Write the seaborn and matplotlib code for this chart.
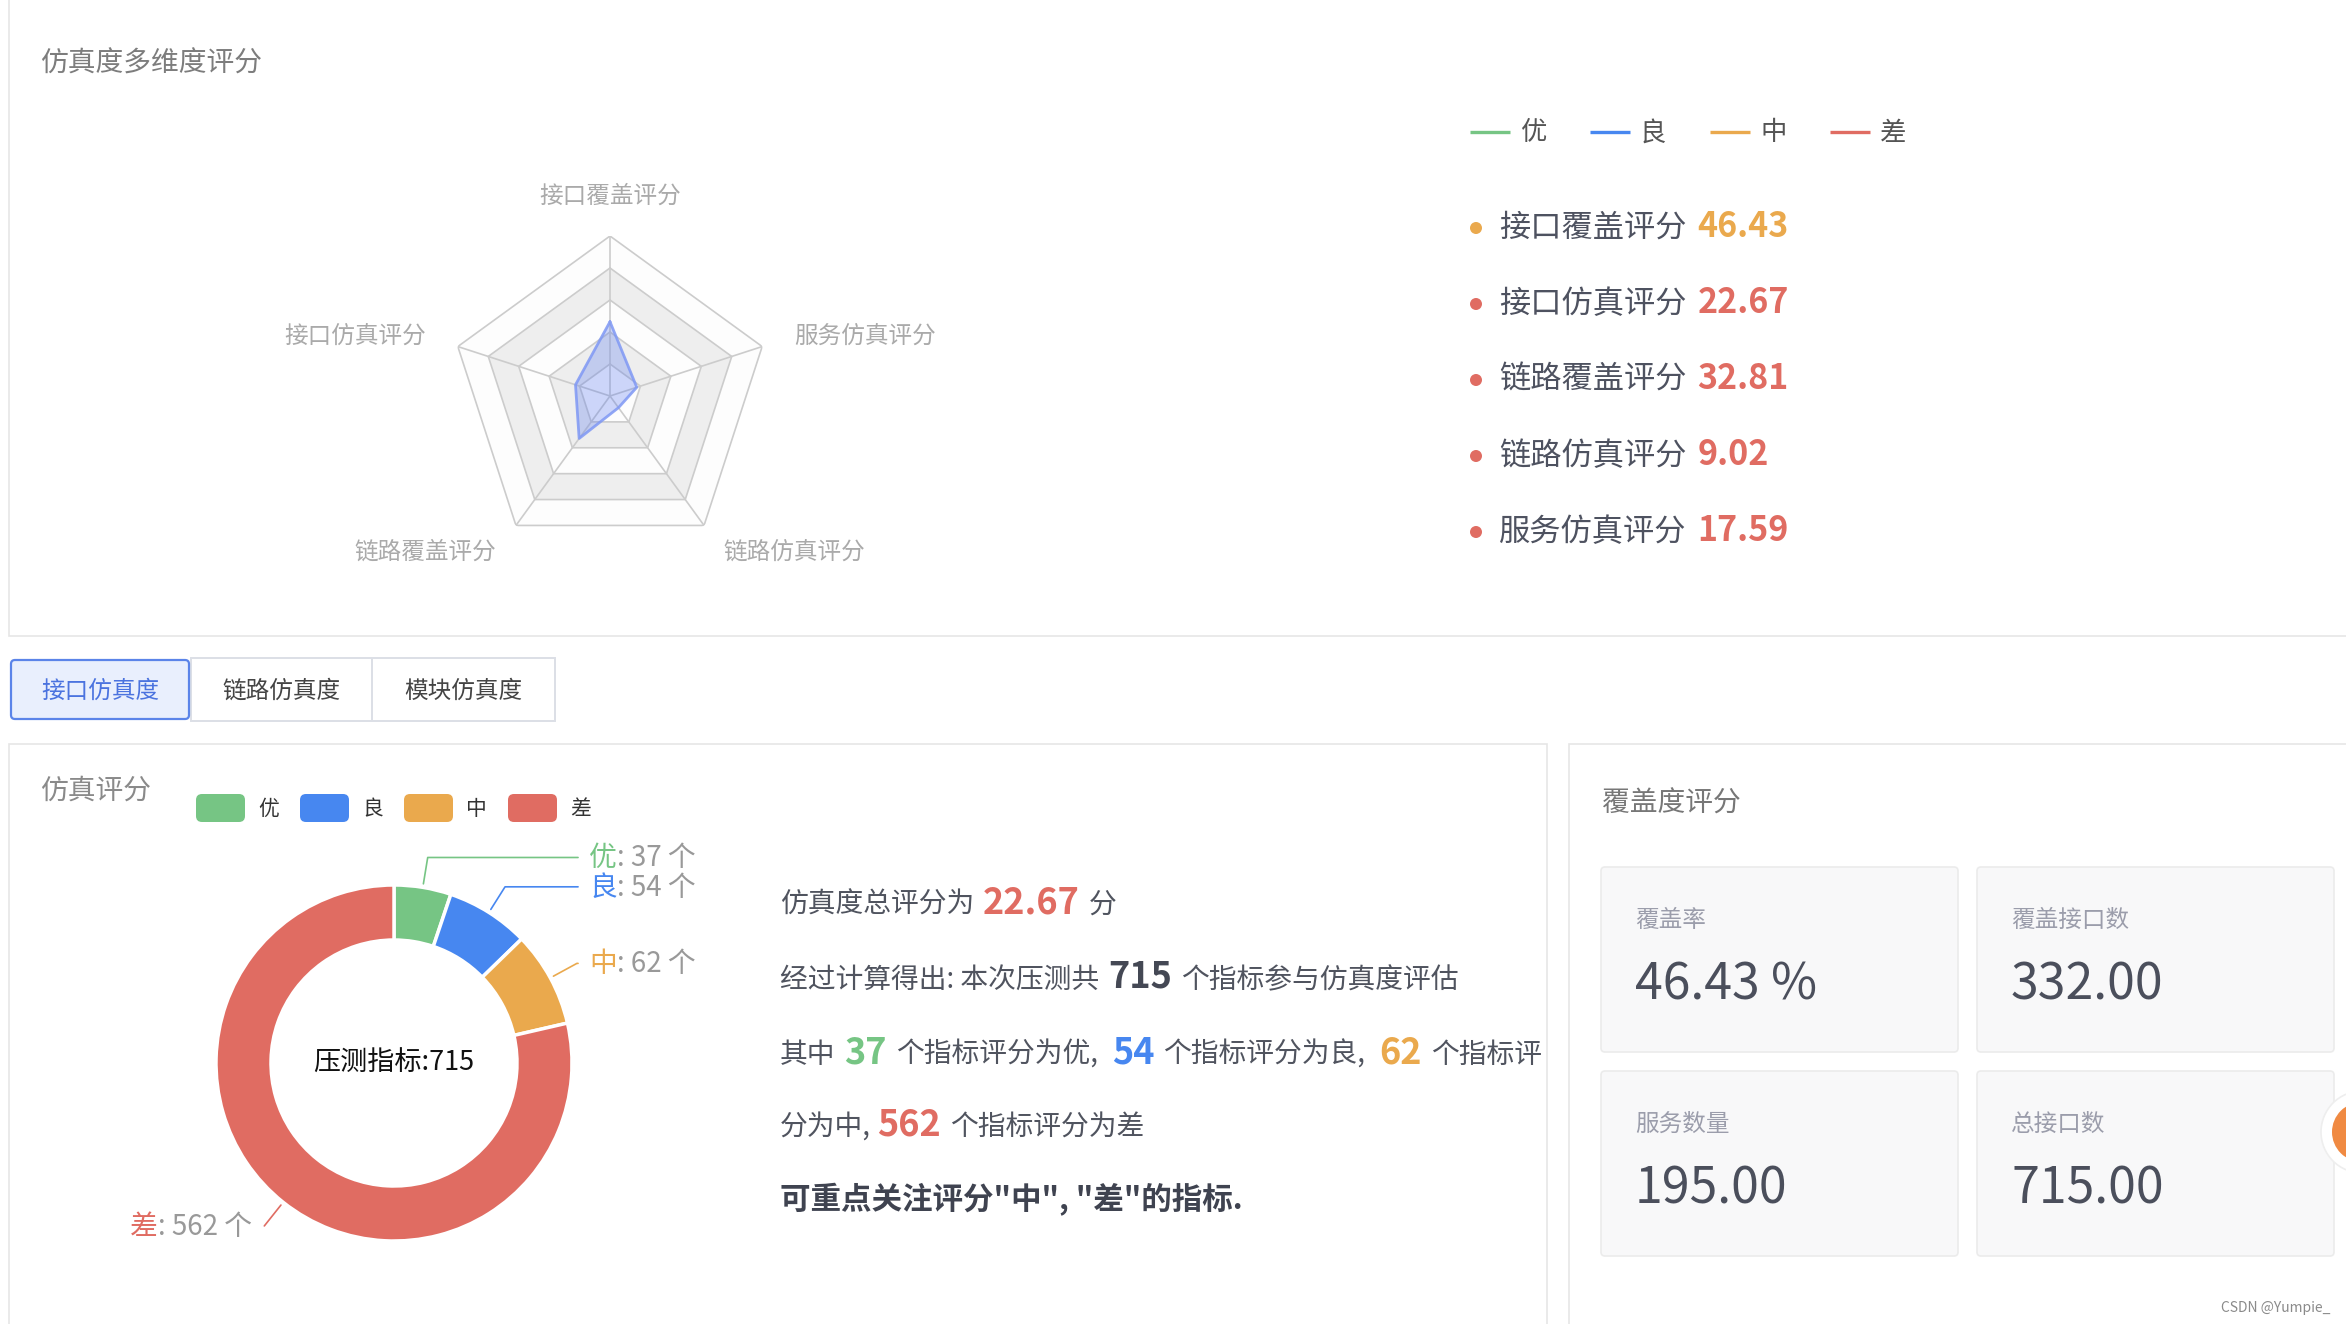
import numpy as np
import matplotlib
matplotlib.use('Agg')
import matplotlib.pyplot as plt
import seaborn as sns
from matplotlib.patches import Rectangle, FancyBboxPatch, Circle

# ---------------- data ----------------
radar_indicators = ['接口覆盖评分', '接口仿真评分', '链路覆盖评分', '链路仿真评分', '服务仿真评分']
radar_values = [46.43, 22.67, 32.81, 9.02, 17.59]
radar_grades = ['中', '差', '差', '差', '差']
radar_max = 100

grade_names = ['优', '良', '中', '差']
grade_counts = [37, 54, 62, 562]
total_indicators = 715
total_score = 22.67

tab_labels = ['接口仿真度', '链路仿真度', '模块仿真度']
coverage_labels = ['覆盖率', '覆盖接口数', '服务数量', '总接口数']
coverage_values = [46.43, 332.00, 195.00, 715.00]
coverage_units = [' %', '', '', '']

# ---------------- style ----------------
sns.set_theme(style='white')
plt.rcParams['font.family'] = ['Noto Sans CJK SC', 'DejaVu Sans']
grade_palette = sns.color_palette(['#76c584', '#4787f0', '#eaa94d', '#e06c62'])
grade_colors = dict(zip(grade_names, grade_palette.as_hex()))

W, H, DPI = 2346, 1324, 100
fig = plt.figure(figsize=(W / DPI, H / DPI), dpi=DPI, facecolor='white')
ov = fig.add_axes([0, 0, 1, 1], zorder=0)
ov.set_xlim(0, W)
ov.set_ylim(H, 0)
ov.set_axis_off()
renderer = fig.canvas.get_renderer()

BORDER = '#e6e6e6'
TXT = '#50545f'


def px_axes(cx, cy, r, **kw):
    return fig.add_axes([(cx - r) / W, 1 - (cy + r) / H, 2 * r / W, 2 * r / H], **kw)


def rich(x, y, pieces, ha='left', va='baseline', clip=None):
    texts, offs, cur = [], [], 0.0
    for s, kw, gap in pieces:
        t = ov.text(x, y, s, ha='left', va=va, **kw)
        w = t.get_window_extent(renderer=renderer).width
        offs.append(cur)
        cur += w + gap
        texts.append(t)
    total = cur - pieces[-1][2]
    start = x - total if ha == 'right' else (x - total / 2 if ha == 'center' else x)
    for t, o in zip(texts, offs):
        t.set_x(start + o)
        if clip is not None:
            t.set_clip_path(clip)
            t.set_clip_on(True)
    return texts


# ---------------- panels ----------------
ov.add_patch(Rectangle((9, -20), W + 40, 656, fc='white', ec=BORDER, lw=1.2))
left_panel = Rectangle((9, 744), 1538, 700, fc='white', ec=BORDER, lw=1.2)
ov.add_patch(left_panel)
ov.add_patch(Rectangle((1569, 744), 1000, 700, fc='white', ec=BORDER, lw=1.2))

ov.text(40, 64, '仿真度多维度评分', fontsize=20, color='#7d7d7d', ha='left', va='center')
ov.text(40, 791, '仿真评分', fontsize=20, color='#8a8a8a', ha='left', va='center')
ov.text(1602, 804, '覆盖度评分', fontsize=20, color='#777777', ha='left', va='center')

# ---------------- tabs ----------------
tab_x = [9, 191, 372, 555]
for i, lab in enumerate(tab_labels):
    x0, x1 = tab_x[i], tab_x[i + 1]
    if i == 0:
        continue
    ov.add_patch(Rectangle((x0, 658), x1 - x0, 63, fc='white', ec='#dcdfe6', lw=1.4))
for i, lab in enumerate(tab_labels):
    x0, x1 = tab_x[i], tab_x[i + 1]
    if i == 0:
        ov.add_patch(FancyBboxPatch((x0 + 2, 660), x1 - x0 - 4, 59,
                                    boxstyle='round,pad=0,rounding_size=4',
                                    fc='#e9effd', ec='#5b84e9', lw=1.6, zorder=3))
    ov.text((x0 + x1) / 2, 691, lab, fontsize=17, ha='center', va='center',
            color='#4b73df' if i == 0 else '#444444', zorder=4)

# ---------------- radar ----------------
n = len(radar_indicators)
theta = np.arange(n) * 2 * np.pi / n
theta_c = np.append(theta, theta[0])
rax = px_axes(610, 396, 160, projection='polar', zorder=2)
rax.set_theta_zero_location('N')
rax.set_theta_direction(1)
rax.set_ylim(0, radar_max)
rax.set_axis_off()
levels = np.linspace(radar_max / 5, radar_max, 5)
band_cols = ['#fdfdfd', '#eeeeee']
for k in range(4, -1, -1):
    rax.fill(theta_c, np.full(n + 1, levels[k]), color=band_cols[k % 2], lw=0, zorder=1)
for lv in levels:
    rax.plot(theta_c, np.full(n + 1, lv), color='#cccccc', lw=1.2, zorder=2)
for th in theta:
    rax.plot([th, th], [0, radar_max], color='#cccccc', lw=1.2, zorder=2)
vals_c = np.append(radar_values, radar_values[0])
rax.fill(theta_c, vals_c, color='#5b7bf0', alpha=0.3, lw=0, zorder=3)
rax.plot(theta_c, vals_c, color='#7f98f4', lw=2.0, alpha=0.85, zorder=4)
for i, (th, lab) in enumerate(zip(theta, radar_indicators)):
    dx = -np.sin(th)
    if i == 0:
        ha, r = 'center', 125
    else:
        ha, r = ('left' if dx > 0 else 'right'), 121
    rax.text(th, r, lab, ha=ha, va='center', fontsize=17, color='#aaaaaa')

# ---------------- top-right legend & list ----------------
for i, g in enumerate(grade_names):
    x0 = 1470 + i * 120
    ov.plot([x0, x0 + 40], [132, 132], color=grade_colors[g], lw=2.4, solid_capstyle='butt')
    ov.text(x0 + 50, 133, g, fontsize=19, color='#555555', ha='left', va='center')

for i, (lab, v, g) in enumerate(zip(radar_indicators, radar_values, radar_grades)):
    yb = 237 + i * 76
    ov.add_patch(Circle((1476, yb - 9), 6, color=grade_colors[g], lw=0))
    rich(1499, yb, [(lab, dict(fontsize=22.5, color='#4e5260'), 11),
                    (f'{v:.2f}', dict(fontsize=24.5, color=grade_colors[g], fontweight='bold'), 0)])

# ---------------- donut ----------------
DCX, DCY, DR = 394, 1063, 178
dax = px_axes(DCX, DCY, DR, zorder=2)
wedges, _ = dax.pie(grade_counts, colors=[grade_colors[g] for g in grade_names], startangle=90,
                    counterclock=False, radius=1,
                    wedgeprops=dict(width=1 - 123 / 178, edgecolor='white', linewidth=2.5))
dax.set_xlim(-1, 1)
dax.set_ylim(-1, 1)
dax.set_axis_off()
dax.text(0, 0, f'压测指标:{total_indicators}', ha='center', va='center', fontsize=19.5, color='#111111')

for w, g, c in zip(wedges, grade_names, grade_counts):
    a = np.deg2rad((w.theta1 + w.theta2) / 2)
    sx, sy = 1.02 * np.cos(a), 1.02 * np.sin(a)
    ex, ey = 1.17 * np.cos(a), 1.17 * np.sin(a)
    if np.cos(a) >= 0:
        hx = max(1.034, ex)
        dax.plot([sx, ex, hx], [sy, ey, ey], color=grade_colors[g], lw=1.2, clip_on=False)
        lx, ha = 1.096, 'left'
    else:
        dax.plot([sx, ex], [sy, ey], color=grade_colors[g], lw=1.2, clip_on=False)
        lx, ha = ex - 0.07, 'right'
    px, py = DCX + lx * DR, DCY - ey * DR
    rich(px, py + 1, [(g, dict(fontsize=20, color=grade_colors[g]), 0),
                      (f': {c} 个', dict(fontsize=20, color='#999999'), 0)], ha=ha, va='center')

# donut legend
for i, g in enumerate(grade_names):
    x0 = 196 + i * 104
    ov.add_patch(FancyBboxPatch((x0, 794), 49, 28, boxstyle='round,pad=0,rounding_size=6',
                                fc=grade_colors[g], ec='none'))
    ov.text(x0 + 62, 809, g, fontsize=15, color='#333333', ha='left', va='center')

# ---------------- summary text ----------------
norm = dict(fontsize=20, color=TXT)
def num(col):
    return dict(fontsize=26, color=col, fontweight='bold')

g_ = grade_colors
rich(780, 913, [('仿真度总评分为', norm, 9), (f'{total_score:.2f}', num(g_['差']), 9), ('分', norm, 0)],
     clip=left_panel)
rich(780, 988, [('经过计算得出: 本次压测共', norm, 9), (str(total_indicators), num('#444854'), 9),
                ('个指标参与仿真度评估', norm, 0)], clip=left_panel)
rich(780, 1063, [('其中', norm, 9), (str(grade_counts[0]), num(g_['优']), 9), ('个指标评分为优,', norm, 14),
                 (str(grade_counts[1]), num(g_['良']), 9), ('个指标评分为良,', norm, 14),
                 (str(grade_counts[2]), num(g_['中']), 9), ('个指标评', norm, 0)], clip=left_panel)
rich(780, 1136, [('分为中,', norm, 6), (str(grade_counts[3]), num(g_['差']), 9), ('个指标评分为差', norm, 0)],
     clip=left_panel)
rich(780, 1209, [('可重点关注评分"中", "差"的指标.', dict(fontsize=22, color='#3f4350', fontweight='bold'), 0)],
     clip=left_panel)

# ---------------- coverage cards ----------------
card_x = [1601, 1977]
card_y = [867, 1071]
for i, (lab, v, u) in enumerate(zip(coverage_labels, coverage_values, coverage_units)):
    x0, y0 = card_x[i % 2], card_y[i // 2]
    ov.add_patch(FancyBboxPatch((x0, y0), 357, 185, boxstyle='round,pad=0,rounding_size=4',
                                fc='#f8f8f9', ec='#ebebeb', lw=1.2))
    ov.text(x0 + 34, y0 + 53, lab, fontsize=17, color='#9b9dab', ha='left', va='center')
    ov.text(x0 + 34, y0 + 133, f'{v:.2f}{u}', fontsize=36, color='#4b4f5c', ha='left', va='baseline')

# floating button & watermark
ov.add_patch(Circle((2362, 1132), 41, fc='white', ec='#eeeeee', lw=1.2))
ov.add_patch(Circle((2362, 1132), 30, fc='#f08a42', ec='none'))
ov.text(2330, 1308, 'CSDN @Yumpie_', fontsize=10, color='#8a8a8a', ha='right', va='center')

fig.savefig('out.png', dpi=DPI, facecolor='white')
